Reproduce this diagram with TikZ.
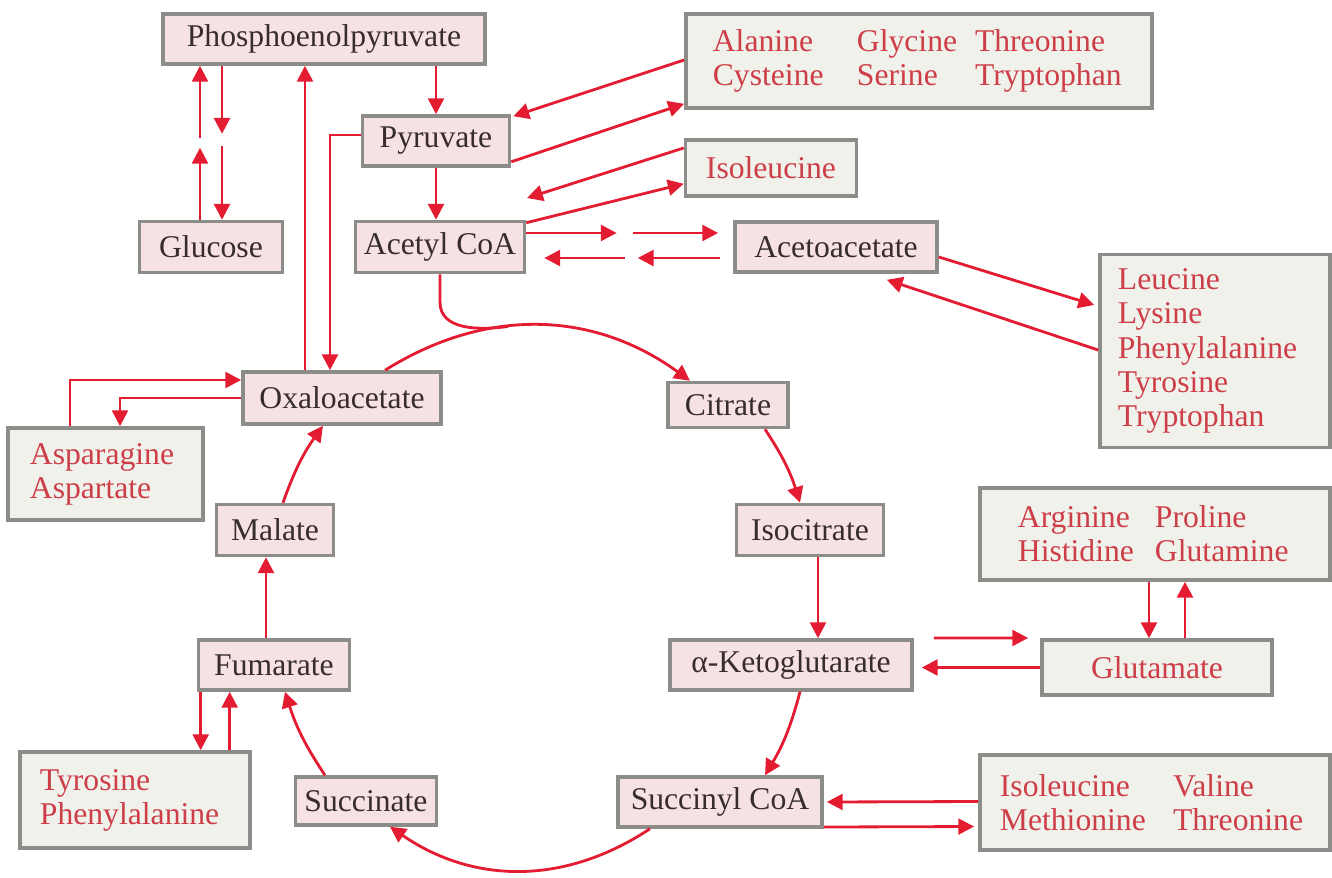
\documentclass[tikz,border=0pt]{standalone}
\usepackage{fontspec}
\setmainfont{Liberation Serif}
\usetikzlibrary{arrows.meta,positioning,calc}
\definecolor{metfill}{RGB}{246,226,226}
\definecolor{aafill}{RGB}{240,241,234}
\definecolor{boxline}{RGB}{140,140,136}
\definecolor{aatext}{RGB}{205,62,72}
\definecolor{flowred}{RGB}{228,28,50}
\definecolor{mettext}{RGB}{55,45,45}
\begin{document}
\begin{tikzpicture}[x=0.01cm,y=-0.01cm,>={Triangle[length=4.5pt,width=4.5pt]},
  every node/.style={font=\fontsize{9}{9.7}\selectfont},
  met/.style={draw=boxline,line width=1pt,fill=metfill,text=mettext,minimum height=0.5cm,inner sep=0pt},
  aabox/.style={draw=boxline,line width=1pt,fill=aafill,text=aatext,align=left,inner ysep=0pt},
  flow/.style={->,draw=flowred,line width=0.8pt},
  link/.style={draw=flowred,line width=0.8pt}]
\useasboundingbox (0,0) rectangle (1332,878);

% metabolites
\node[met,minimum width=3.22cm] (pep) at (324,39) {Phosphoenolpyruvate};
\node[met,minimum width=1.47cm] (pyr) at (436,141) {Pyruvate};
\node[met,minimum width=1.43cm,minimum height=0.51cm] (glc) at (211,247) {Glucose};
\node[met,minimum width=1.69cm,minimum height=0.51cm] (acoa) at (440,247) {Acetyl CoA};
\node[met,minimum width=2.02cm] (acac) at (836,247) {Acetoacetate};
\node[met,minimum width=1.98cm,minimum height=0.52cm] (oaa) at (342,398) {Oxaloacetate};
\node[met,minimum width=1.20cm,minimum height=0.45cm] (cit) at (728,405) {Citrate};
\node[met,minimum width=1.17cm,minimum height=0.51cm] (mal) at (275,530) {Malate};
\node[met,minimum width=1.47cm,minimum height=0.51cm] (icit) at (810,530) {Isocitrate};
\node[met,minimum width=1.51cm] (fum) at (274,665) {Fumarate};
\node[met,minimum width=2.42cm] (akg) at (791,665) {α-Ketoglutarate};
\node[met,minimum width=1.41cm,minimum height=0.48cm] (succ) at (366,801) {Succinate};
\node[met,minimum width=2.04cm] (scoa) at (720,802) {Succinyl CoA};

% amino acids
\node[aabox,text width=4.12cm,inner xsep=0.27cm,minimum height=0.94cm] (aaPyr) at (919,61)
  {\makebox[1.44cm][l]{Alanine}\makebox[1.18cm][l]{Glycine}Threonine\\
   \makebox[1.44cm][l]{Cysteine}\makebox[1.18cm][l]{Serine}Tryptophan};
\node[aabox,minimum width=1.71cm,minimum height=0.56cm,inner xsep=0pt] (aaIle) at (771,168) {Isoleucine};
\node[aabox,text width=1.94cm,inner xsep=0.18cm,minimum height=1.93cm] (aaLeu) at (1215,351)
  {Leucine\\Lysine\\Phenylalanine\\Tyrosine\\Tryptophan};
\node[aabox,text width=1.51cm,inner xsep=0.22cm,minimum height=0.92cm] (aaAsn) at (105.5,474)
  {Asparagine\\Aspartate};
\node[aabox,text width=2.74cm,inner xsep=0.38cm,minimum height=0.92cm] (aaArg) at (1155,534)
  {\makebox[1.37cm][l]{Arginine}Proline\\ \makebox[1.37cm][l]{Histidine}Glutamine};
\node[aabox,minimum width=2.30cm,minimum height=0.55cm,inner xsep=0pt] (aaGlu) at (1157,667.5) {Glutamate};
\node[aabox,text width=1.90cm,inner xsep=0.2cm,minimum height=0.96cm] (aaTyr) at (135,800)
  {Tyrosine\\Phenylalanine};
\node[aabox,text width=3.10cm,inner xsep=0.2cm,minimum height=0.95cm] (aaIVM) at (1155,802.5)
  {\makebox[1.73cm][l]{Isoleucine}Valine\\ \makebox[1.73cm][l]{Methionine}Threonine};

% gluconeogenesis / glycolysis
\coordinate (gl) at ([xshift=-0.11cm]glc.north);
\coordinate (gr) at ([xshift=0.11cm]glc.north);
\draw[flow] (gl) -- ++(0,0.72cm);
\draw[flow] ([yshift=0.82cm]gl) -- (gl |- pep.south);
\draw[flow] (gr |- pep.south) -- ++(0,-0.68cm);
\draw[flow] ([yshift=0.74cm]gr) -- (gr);

\coordinate (oaaUp) at ([xshift=-0.37cm]oaa.north);
\draw[flow] (oaaUp) -- (oaaUp |- pep.south);
\draw[flow] ([yshift=0.06cm]pyr.west) -| ([xshift=-0.12cm]oaa.north);
\draw[flow] (pyr.north |- pep.south) -- (pyr.north);
\draw[flow] (pyr.south) -- (pyr.south |- acoa.north);
\draw[flow] ([yshift=0.01cm]aaPyr.west) -- ([shift={(0.02cm,-0.02cm)}]pyr.north east);
\draw[flow] ([yshift=0.06cm]pyr.south east) -- ([yshift=0.06cm]aaPyr.south west);

% isoleucine
\coordinate (ileEnd) at (527,198);
\draw[flow] ([yshift=0.2cm]aaIle.west) -- (ileEnd);
\draw[flow] ([yshift=-0.03cm]acoa.north east) -- ([yshift=0.14cm]aaIle.south west);

% ketone bodies
\coordinate (mid) at ($(acoa.east)!0.5!(acac.west)$);
\draw[flow] ([yshift=0.14cm]acoa.east) -- ([shift={(-0.13cm,0.14cm)}]mid);
\draw[flow] ([shift={(0.03cm,0.14cm)}]mid) -- ([shift={(-0.15cm,0.14cm)}]acac.west);
\draw[flow] ([shift={(-0.13cm,-0.11cm)}]acac.west) -- ([shift={(0.08cm,-0.11cm)}]mid);
\draw[flow] ([shift={(-0.05cm,-0.11cm)}]mid) -- ([shift={(0.18cm,-0.11cm)}]acoa.east);
\draw[flow] ([yshift=-0.1cm]acac.east) -- ([shift={(-0.04cm,0.46cm)}]aaLeu.west);
\draw[flow] ([yshift=0.01cm]aaLeu.west) -- ([shift={(-0.52cm,-0.06cm)}]acac.south east);

% citric acid cycle
\draw[flow] ([xshift=0.43cm]oaa.north) to[bend left=34] coordinate[pos=0.4] (acm) ([xshift=-0.38cm]cit.north);
\draw[link] (acoa.south) -- ++(0,-0.28cm) to[out=-90,in=188] (acm);
\draw[flow] ([xshift=0.37cm]cit.south) to[bend left=8] ([xshift=-0.1cm]icit.north);
\coordinate (icd) at ([xshift=0.08cm]icit.south);
\draw[flow] (icd) -- (icd |- akg.north);
\draw[flow] ([xshift=0.09cm]akg.south) to[bend left=8] ([xshift=0.45cm]scoa.north);
\draw[flow] ([xshift=-0.7cm]scoa.south) to[bend left=34] ([xshift=0.24cm]succ.south);
\draw[flow] ([xshift=-0.41cm]succ.north) to[bend left=8] ([xshift=0.11cm]fum.south);
\coordinate (fmu) at ([xshift=-0.08cm]fum.north);
\draw[flow] (fmu) -- (fmu |- mal.south);
\draw[flow] ([xshift=0.08cm]mal.north) to[bend left=8] ([xshift=-0.19cm]oaa.south);

% side entries
\draw[flow] ([xshift=-0.355cm]aaAsn.north) |- ([yshift=0.18cm]oaa.west);
\draw[flow] (oaa.west) -| ([xshift=0.145cm]aaAsn.north);
\coordinate (fd) at ([xshift=0.04cm]fum.south west);
\coordinate (fu) at ([xshift=0.33cm]fum.south west);
\draw[flow] (fd) -- (fd |- aaTyr.north);
\draw[flow] (fu |- aaTyr.north) -- (fu);
\draw[flow] ([shift={(0.2cm,0.27cm)}]akg.east) -- ([shift={(-0.12cm,0.295cm)}]aaGlu.west);
\coordinate (ga) at ([xshift=0.08cm]akg.east);
\draw[flow] (aaGlu.west) -- (ga |- aaGlu.west);
\coordinate (ad) at ([xshift=-0.06cm]aaArg.south);
\coordinate (au) at ([xshift=0.30cm]aaArg.south);
\draw[flow] (ad) -- (ad |- aaGlu.north);
\draw[flow] (au |- aaGlu.north) -- (au);
\draw[flow] ([yshift=0.01cm]aaIVM.west) -- ([xshift=0.03cm]scoa.east);
\draw[flow] ([yshift=-0.25cm]scoa.east) -- ([shift={(-0.04cm,-0.24cm)}]aaIVM.west);
\end{tikzpicture}
\end{document}
